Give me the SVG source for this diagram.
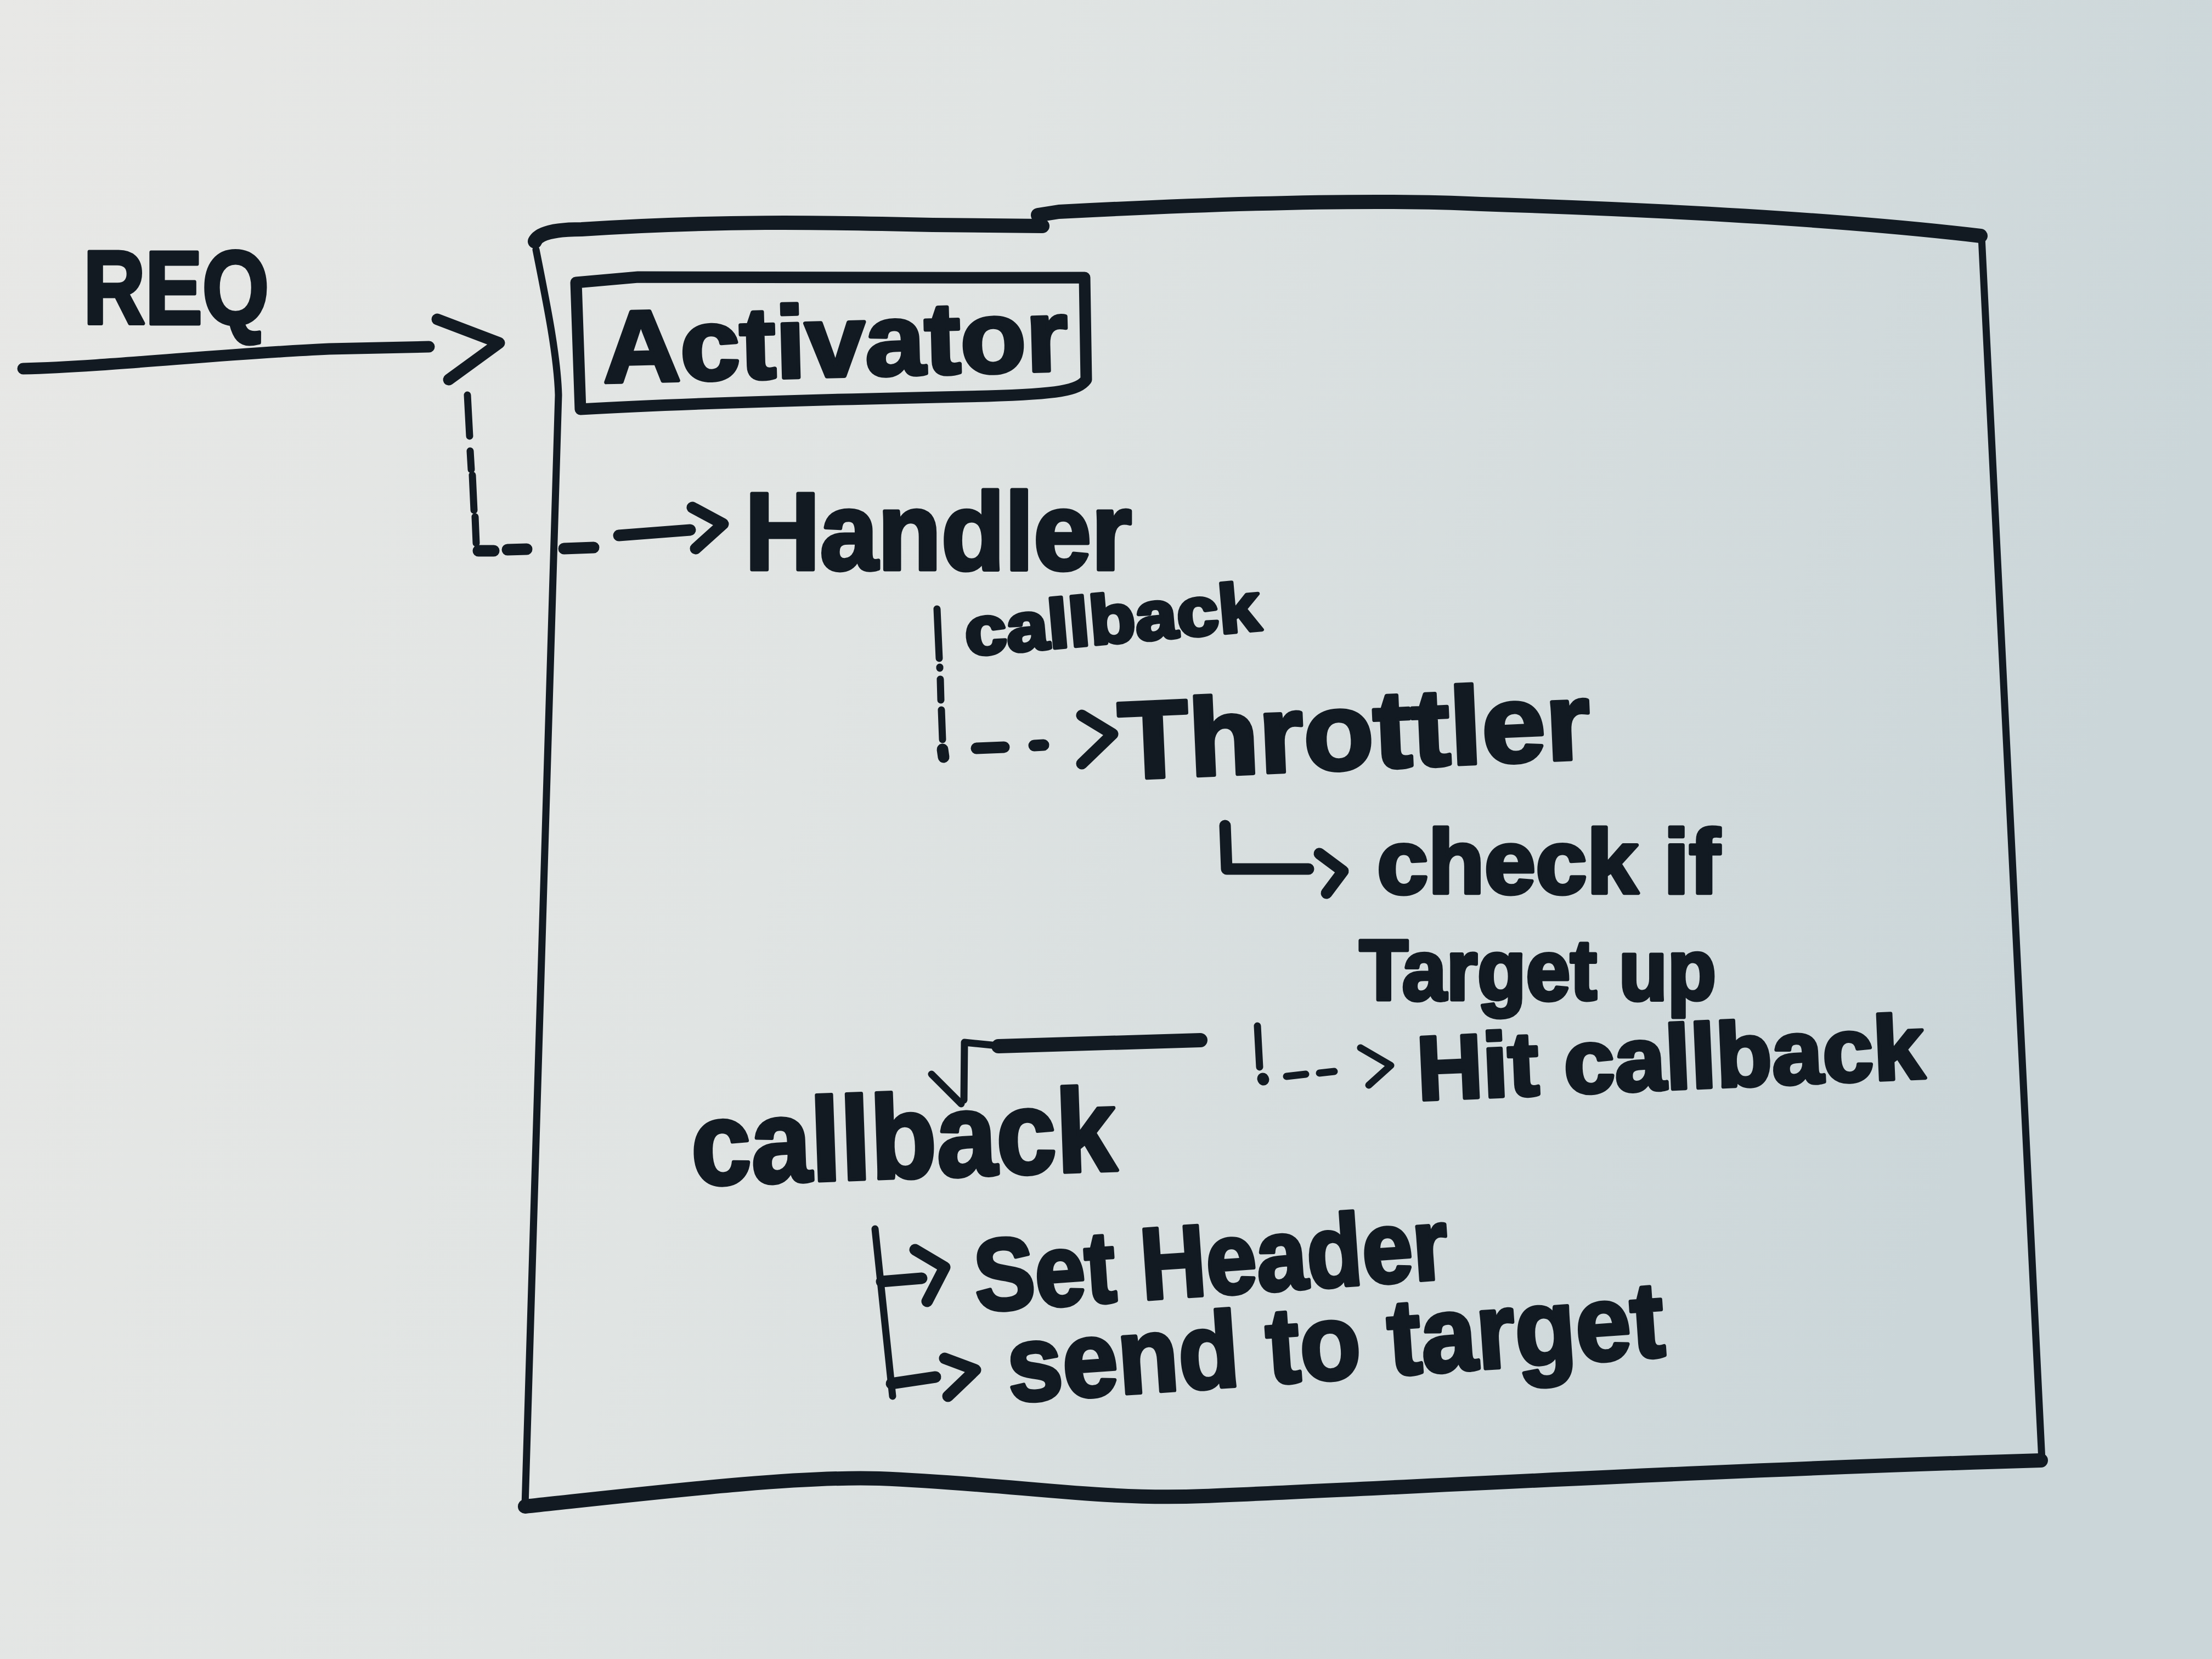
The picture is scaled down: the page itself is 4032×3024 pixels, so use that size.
<svg xmlns="http://www.w3.org/2000/svg" width="4032" height="3024" viewBox="0 0 4032 3024">
<defs>
<linearGradient id="bg" x1="0" y1="0" x2="1" y2="0.25">
<stop offset="0" stop-color="#e8e8e6"/>
<stop offset="0.45" stop-color="#e0e4e3"/>
<stop offset="1" stop-color="#cbd6d9"/>
</linearGradient>
<style>
.ink{fill:none;stroke:#121a22;stroke-linecap:round;stroke-linejoin:round}
.thick{stroke-width:26}
.mid{stroke-width:21}
.thin{stroke-width:13}
.lbl{font-family:"Liberation Sans","DejaVu Sans",Arial,sans-serif;font-weight:700;fill:#121a22;stroke:#121a22;stroke-width:7;stroke-linejoin:round}
</style>
</defs>
<rect x="0" y="0" width="4032" height="3024" fill="url(#bg)"/>

<g id="container">
<path class="ink thick" d="M975,440 Q985,418 1060,418 C1300,402 1500,405 1700,410 L1900,412"/>
<path class="ink thick" d="M1892,392 L1930,386 C2200,372 2500,362 2700,372 C3100,385 3400,405 3610,430"/>
<path class="ink thin" d="M3612,432 L3722,2662"/>
<path class="ink thick" d="M3720,2662 C3100,2680 2500,2715 2194,2727 C2000,2735 1850,2705 1603,2695 C1450,2690 1200,2720 957,2746"/>
<path class="ink thin" d="M977,455 C998,560 1016,650 1018,720 L957,2745"/>
</g>

<g id="activator">
<path class="ink mid" d="M1050,515 L1163,505 C1400,505 1700,507 1977,506 L1980,692 C1965,712 1930,718 1800,722 C1500,728 1250,735 1058,746 Z"/>
<text class="lbl" x="1100" y="697" font-size="185" textLength="848" lengthAdjust="spacingAndGlyphs" transform="rotate(-1.5 1100 697)">Activator</text>
</g>

<g id="req"><text class="lbl" x="152" y="590" font-size="190" textLength="338" lengthAdjust="spacingAndGlyphs">REQ</text></g>
<g id="handler"><text class="lbl" x="1358" y="1038" font-size="200" textLength="705" lengthAdjust="spacingAndGlyphs">Handler</text></g>
<g id="callback-label"><text class="lbl" x="1762" y="1195" font-size="125" textLength="540" lengthAdjust="spacingAndGlyphs" transform="rotate(-5 1762 1195)">callback</text></g>
<g id="throttler"><text class="lbl" x="2042" y="1420" font-size="200" textLength="860" lengthAdjust="spacingAndGlyphs" transform="rotate(-2.5 2042 1420)">Throttler</text></g>
<g id="check"><text class="lbl" x="2510" y="1628" font-size="165" textLength="625" lengthAdjust="spacingAndGlyphs">check if</text>
<text class="lbl" x="2478" y="1822" font-size="155" textLength="650" lengthAdjust="spacingAndGlyphs">Target up</text></g>
<g id="hit"><text class="lbl" x="2585" y="2005" font-size="165" textLength="925" lengthAdjust="spacingAndGlyphs" transform="rotate(-2.5 2585 2005)">Hit callback</text></g>
<g id="callback"><text class="lbl" x="1262" y="2160" font-size="215" textLength="775" lengthAdjust="spacingAndGlyphs" transform="rotate(-2 1262 2160)">callback</text></g>
<g id="set-header"><text class="lbl" x="1780" y="2390" font-size="185" textLength="865" lengthAdjust="spacingAndGlyphs" transform="rotate(-4 1780 2390)">Set Header</text></g>
<g id="send"><text class="lbl" x="1840" y="2555" font-size="195" textLength="1200" lengthAdjust="spacingAndGlyphs" transform="rotate(-4 1840 2555)">send to target</text></g>

<g id="connectors">
<!-- REQ arrow -->
<path class="ink mid" d="M42,672 C200,668 400,645 600,636 L782,632"/>
<polyline class="ink mid" points="797,582 910,625 818,692"/>
<!-- dashed to Handler -->
<path class="ink thin" d="M852,720 L856,795"/>
<path class="ink thin" d="M857,822 L859,856"/>
<path class="ink thin" d="M861,866 L864,930"/>
<path class="ink thin" d="M866,942 L868,990"/>
<path class="ink mid" d="M872,1004 L900,1004"/>
<path class="ink mid" d="M925,1002 L960,1001"/>
<path class="ink mid" d="M1028,1000 L1082,998"/>
<path class="ink mid" d="M1128,976 L1258,966"/>
<polyline class="ink mid" points="1262,925 1318,955 1268,1000"/>
<!-- Handler to Throttler -->
<path class="ink thin" d="M1708,1110 L1712,1200"/>
<path class="ink thin" d="M1713,1216 L1713,1218"/>
<path class="ink thin" d="M1714,1238 L1715,1276"/>
<path class="ink thin" d="M1716,1294 L1718,1348"/>
<path class="ink mid" d="M1718,1366 L1720,1380"/>
<path class="ink mid" d="M1780,1364 L1830,1362"/>
<path class="ink mid" d="M1885,1359 L1902,1358"/>
<polyline class="ink mid" points="1972,1304 2028,1338 1972,1392"/>
<!-- Throttler to check if -->
<polyline class="ink mid" points="2233,1505 2236,1584 2385,1584"/>
<polyline class="ink mid" points="2405,1556 2448,1588 2418,1628"/>
<!-- Target up to Hit callback -->
<path class="ink thin" d="M2292,1870 L2296,1945"/>
<path class="ink mid" d="M2302,1966 L2303,1968"/>
<path class="ink thin" d="M2345,1962 L2380,1958"/>
<path class="ink thin" d="M2405,1956 L2432,1953"/>
<polyline class="ink thin" points="2480,1910 2535,1942 2495,1978"/>
<!-- Hit callback back to callback -->
<path class="ink thick" d="M2188,1896 L1820,1907"/>
<path class="ink thin" d="M1818,1906 L1758,1900 L1757,2005"/>
<path class="ink thin" d="M1698,1958 L1752,2012"/>
<!-- callback to Set Header / send to target -->
<path class="ink thin" d="M1595,2240 L1627,2545"/>
<path class="ink mid" d="M1607,2336 L1680,2330"/>
<polyline class="ink mid" points="1668,2278 1722,2310 1690,2372"/>
<path class="ink mid" d="M1625,2522 L1705,2510"/>
<polyline class="ink mid" points="1722,2476 1778,2497 1728,2545"/>
</g>
</svg>
